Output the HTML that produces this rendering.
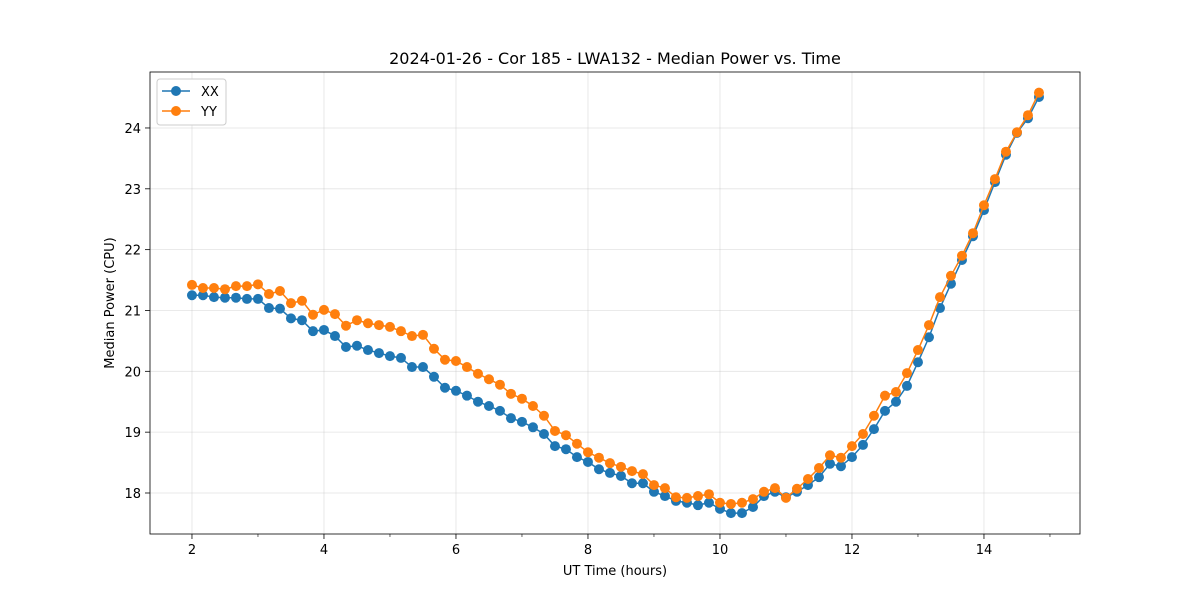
<!DOCTYPE html>
<html><head><meta charset="utf-8"><style>
body{margin:0;background:#fff;font-family:"Liberation Sans","DejaVu Sans",sans-serif}
svg{display:block}
</style></head><body>
<svg id="chart" width="1200" height="600" xmlns="http://www.w3.org/2000/svg" font-family="DejaVu Sans, Liberation Sans, sans-serif">
<rect width="1200" height="600" fill="#fff"/>
<text x="615" y="64" text-anchor="middle" font-size="16">2024-01-26 - Cor 185 - LWA132 - Median Power vs. Time</text>
<g id="grid"></g><g id="series"></g><g id="axes"></g>
<text x="615" y="575" text-anchor="middle" font-size="13">UT Time (hours)</text>
<text transform="translate(114,303) rotate(-90)" text-anchor="middle" font-size="13">Median Power (CPU)</text>
<g>
<rect x="157" y="79" width="69" height="46" fill="#fff" stroke="#ccc" rx="3"/>
<line x1="162" y1="91" x2="190" y2="91" stroke="#1f77b4" stroke-width="1.5"/><circle cx="176" cy="91" r="5" fill="#1f77b4"/>
<text x="201" y="96" font-size="13">XX</text>
<line x1="162" y1="111" x2="190" y2="111" stroke="#ff7f0e" stroke-width="1.5"/><circle cx="176" cy="111" r="5" fill="#ff7f0e"/>
<text x="201" y="116" font-size="13">YY</text>
</g>
</svg>
<script>
const xx=[21.25,21.25,21.22,21.21,21.21,21.19,21.19,21.04,21.03,20.87,20.84,20.66,20.68,20.58,20.40,20.42,20.35,20.30,20.25,20.22,20.07,20.07,19.91,19.73,19.68,19.60,19.50,19.43,19.35,19.23,19.17,19.08,18.97,18.77,18.72,18.59,18.51,18.39,18.33,18.28,18.16,18.16,18.02,17.95,17.87,17.84,17.80,17.84,17.74,17.67,17.67,17.77,17.95,18.02,17.93,18.02,18.13,18.26,18.48,18.44,18.59,18.79,19.05,19.35,19.50,19.76,20.15,20.56,21.04,21.44,21.83,22.22,22.65,23.11,23.56,23.92,24.16,24.51];
const yy=[21.42,21.37,21.37,21.35,21.40,21.40,21.43,21.27,21.32,21.12,21.16,20.93,21.01,20.94,20.75,20.84,20.79,20.76,20.73,20.66,20.58,20.60,20.37,20.19,20.17,20.07,19.96,19.87,19.78,19.63,19.55,19.43,19.27,19.02,18.95,18.81,18.67,18.58,18.49,18.43,18.36,18.31,18.13,18.08,17.93,17.92,17.95,17.98,17.84,17.82,17.84,17.90,18.02,18.08,17.92,18.07,18.23,18.41,18.62,18.58,18.77,18.97,19.27,19.60,19.66,19.97,20.35,20.76,21.22,21.57,21.90,22.27,22.73,23.16,23.61,23.93,24.21,24.58];
const times=xx.map((_,i)=>2+i/6);
const xTicks=[2,4,6,8,10,12,14];
const xMinor=[3,5,7,9,11,13,15];
const yTicks=[18,19,20,21,22,23,24];
const L=150,R=1080,T=72,B=534,x0=1.364,x1=15.455,y0=17.326,y1=24.92;
const X=v=>L+(v-x0)/(x1-x0)*(R-L), Y=v=>B-(v-y0)/(y1-y0)*(B-T);
const NS="http://www.w3.org/2000/svg";
function mk(p,t,a){const e=document.createElementNS(NS,t);for(const k in a)e.setAttribute(k,a[k]);p.appendChild(e);return e;}
const g=document.getElementById('grid'),s=document.getElementById('series'),ax=document.getElementById('axes');
xTicks.forEach(t=>{const l=mk(g,'line',{x1:X(t),x2:X(t),y1:T,y2:B,stroke:'#b0b0b0','stroke-opacity':0.35,'stroke-width':0.8});


const k=mk(ax,'line',{x1:X(t),x2:X(t),y1:B,y2:B+5,stroke:'#000','stroke-width':0.8});
const tx=mk(ax,'text',{x:X(t),y:B+20,'text-anchor':'middle','font-size':13});tx.textContent=t;

});
xMinor.forEach(t=>{if(X(t)<R)mk(ax,'line',{x1:X(t),x2:X(t),y1:B,y2:B+3,stroke:'#000','stroke-width':0.6});});
yTicks.forEach(t=>{const l=mk(g,'line',{x1:L,x2:R,y1:Y(t),y2:Y(t),stroke:'#b0b0b0','stroke-opacity':0.35,'stroke-width':0.8});


mk(ax,'line',{x1:L-5,x2:L,y1:Y(t),y2:Y(t),stroke:'#000','stroke-width':0.8});
const tx=mk(ax,'text',{x:L-9,y:Y(t)+5,'text-anchor':'end','font-size':13});tx.textContent=t;

});
mk(ax,'rect',{x:L,y:T,width:R-L,height:B-T,fill:'none',stroke:'#000','stroke-width':0.8});
[[xx,'#1f77b4','xx'],[yy,'#ff7f0e','yy']].forEach(([d,c,n])=>{
const p=mk(s,'polyline',{points:d.map((v,i)=>X(times[i])+','+Y(v)).join(' '),fill:'none',stroke:c,'stroke-width':1.5});


d.forEach((v,i)=>{const c2=mk(s,'circle',{cx:X(times[i]),cy:Y(v),r:5,fill:c});

});});
</script>
</body></html>
